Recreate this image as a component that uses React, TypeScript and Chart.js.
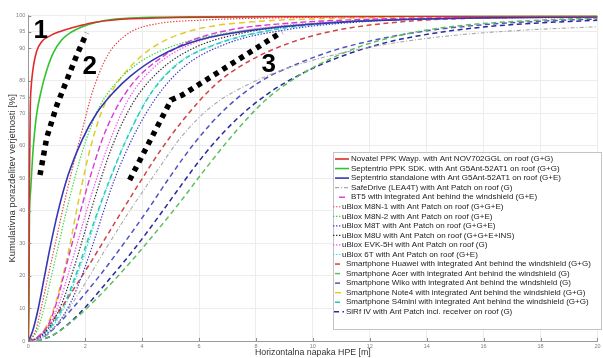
import React, { useEffect, useRef } from 'react';
import { Chart, registerables } from 'chart.js';
Chart.register(...registerables);

const xTicks = [0, 2, 4, 6, 8, 10, 12, 14, 16, 18, 20];
const yTicks = [0, 10, 20, 30, 40, 50, 60, 70, 75, 80, 90, 95, 100];

const seriesLabels = [
  'Novatel PPK Wayp. with Ant NOV702GGL on roof (G+G)',
  'Septentrio PPK SDK. with Ant G5Ant-52AT1 on roof (G+G)',
  'Septentrio standalone with Ant G5Ant-52AT1 on roof (G+E)',
  'SafeDrive (LEA4T) with Ant Patch on roof (G)',
  'BT5 with integrated Ant behind the windshield (G+E)',
  'uBlox M8N-1 with Ant Patch on roof (G+G+E)',
  'uBlox M8N-2 with Ant Patch on roof (G+E)',
  'uBlox M8T with Ant Patch on roof (G+G+E)',
  'uBlox M8U with Ant Patch on roof (G+G+E+INS)',
  'uBlox EVK-5H with Ant Patch on roof (G)',
  'uBlox 6T with Ant Patch on roof (G+E)',
  'Smartphone Huawei with integrated Ant behind the windshield (G+G)',
  'Smartphone Acer with integrated Ant behind the windshield (G)',
  'Smartphone Wiko with integrated Ant behind the windshield (G)',
  'Smartphone Note4 with integrated Ant behind the windshield (G+G)',
  'Smartphone S4mini with integrated Ant behind the windshield (G+G)',
  'SiRf IV with Ant Patch incl. receiver on roof (G)',
];

// [HPE m, cumulative %]
const novatelPPK = [[0,0],[0.02,20],[0.04,50],[0.07,72],[0.1,78],[0.13,81],[0.18,84.5],[0.29,89],[0.47,92],[0.76,93.8],[1.1,95.1],[1.5,96.2],[1.8,96.9],[2.3,97.9],[3,98.7],[4.5,99.3],[10,99.7],[20,100]];
const septentrioPPK = [[0,0],[0.02,10],[0.04,38],[0.08,46],[0.12,52],[0.17,59],[0.29,69.5],[0.47,77.5],[0.64,83],[0.87,88.4],[1.17,92.5],[1.52,95],[1.92,96.7],[2.4,98],[3,98.9],[4,99.4],[6,99.7],[10,99.9],[20,100]];
const septentrioStd = [[0,0],[0.15,3],[0.35,10],[0.55,19],[0.76,28.5],[1.05,40],[1.4,51],[1.9,62],[2.4,70],[3,76.5],[3.6,81.5],[4.6,87.5],[6,92.5],[8.3,96],[11,98],[14,99],[20,99.7]];
const safeDrive = [[0,0],[0.4,0.5],[1.0,5],[1.8,15],[2.7,28],[3.6,40.5],[4.5,52],[5.4,63],[6.5,72.5],[8,80],[9.5,85],[11,88.5],[13,91.8],[15,94],[17.5,95.6],[20,96.6]];
const bt5 = [[0,0],[0.3,1],[0.7,5],[1.0,12],[1.3,22],[1.6,32],[1.9,42],[2.16,50],[2.6,62],[3.0,70],[3.4,76],[3.9,81.5],[4.5,86],[5.5,91.5],[7,95.5],[9,97.6],[12,98.9],[20,99.7]];
const m8n1 = [[0,0],[0.25,3],[0.45,10],[0.7,20],[0.95,30],[1.2,40],[1.52,52],[1.9,65],[2.2,75],[2.5,82.5],[2.8,88],[3.1,91.5],[3.66,95.3],[4.5,97.5],[6,98.6],[10,99.5],[20,100]];
const m8n2 = [[0,0],[0.3,3],[0.55,10],[0.8,19.5],[1.05,29],[1.3,38.5],[1.63,50],[2,61],[2.5,72],[3.1,79.5],[3.8,85],[4.6,89],[6,93],[8.3,96.2],[11,98],[15,99.2],[20,99.7]];
const m8t = [[0,0],[0.4,1],[1,5],[1.5,12],[1.9,20.5],[2.3,30.5],[2.65,40],[3.0,49],[3.7,63],[4.55,75.5],[5.5,84.5],[7,91.5],[9,95.6],[12,98.3],[16,99.4],[20,99.7]];
const m8u = [[0,0],[0.35,1],[0.8,5],[1.2,12],[1.55,21],[1.9,31],[2.2,40],[2.5,48.5],[3.0,61],[3.7,73.5],[4.6,83],[5.8,90],[7.5,94.6],[10,97.5],[13,98.8],[20,99.6]];
const evk5h = [[0,0],[0.3,1],[0.75,5],[1.1,12],[1.4,20.5],[1.75,31],[2.05,40],[2.33,48],[2.8,60],[3.5,74],[4.4,84],[5.6,90.8],[7,94.5],[9,97],[12,98.5],[20,99.5]];
const ublox6t = [[0,0],[0.35,1],[0.9,5],[1.35,12],[1.75,21],[2.1,30],[2.45,39.5],[2.8,48],[3.4,61],[4.25,75.5],[5.2,85],[6.5,91],[8.5,95.5],[11,98],[15,99.3],[20,99.7]];
const huawei = [[0,0],[0.3,1],[0.7,4.5],[1.3,12],[2,21.5],[2.6,30],[3.14,37.8],[3.9,48.5],[4.6,58],[5.4,67.5],[6.6,79],[7.75,86],[9.15,91.5],[10.7,95.3],[13.2,98.2],[15.5,99.2],[20,99.7]];
const acer = [[0,0],[0.5,0.5],[1,2.5],[1.8,8],[3,18.5],[4.25,31],[5.36,43],[6.1,51.5],[7.2,63.5],[8.33,74],[9.5,81.5],[10.8,87.5],[12,91.5],[13.8,95.3],[15.6,97.3],[17.9,98.6],[20,99.3]];
const wiko = [[0,0],[0.4,0.5],[0.8,3],[1.5,9.5],[2.5,20],[3.4,30.5],[4.25,41],[4.9,49.5],[5.9,61.5],[7,72],[8.2,80],[9.4,85],[10.8,89.5],[12.6,93.3],[14.4,95.8],[16.1,97.3],[18,98.3],[20,99]];
const note4 = [[0,0],[0.3,1],[0.6,4],[0.9,10],[1.2,19.5],[1.45,29],[1.65,38],[1.87,47.5],[2.2,60],[2.6,71],[3.1,79],[3.66,85],[4.25,89.5],[5,93.2],[6.1,96.2],[8,98.2],[10,99],[14,99.6],[20,100]];
const s4mini = [[0,0],[0.3,1],[0.85,5],[1.3,12],[1.7,21],[2.05,30],[2.45,40],[2.9,50.5],[3.5,63],[4.3,76],[5.3,85.5],[6.6,91.2],[8.5,95.5],[11,98],[15,99.3],[20,99.7]];
const sirf = [[0,0],[0.5,0.5],[1,2.5],[1.8,8.5],[2.8,18.5],[3.7,28],[4.6,38.5],[5.3,47],[6.2,57.5],[7.3,68],[8.5,76.5],[9.8,83],[11,87.5],[12.6,91.8],[14.4,94.8],[16.1,96.6],[18,97.8],[20,98.6]];

const seriesData = [novatelPPK, septentrioPPK, septentrioStd, safeDrive, bt5, m8n1, m8n2, m8t, m8u, evk5h, ublox6t, huawei, acer, wiko, note4, s4mini, sirf];

const seriesColors = ['#e02a2a', '#2ec42e', '#3636b4', '#a8a8a8', '#d838d8', '#e04848', '#3ad83a', '#3a3ad0', '#303030', '#f050f0', '#3ad8d8', '#d04444', '#5cc05c', '#5252c4', '#e0cc22', '#22c8b0', '#2a2a9c'];
const DOT = [1.4, 1.6];
const DASH = [5, 3.5];
const seriesDash = [[], [], [], [4, 2, 1, 2], [6, 3], DOT, DOT, DOT, DOT, DOT, DOT, DASH, DASH, DASH, [6, 4], DASH, DASH];
const seriesWidths = [1.6, 1.6, 1.6, 1.1, 1.4, 1.2, 1.2, 1.2, 1.2, 1.2, 1.2, 1.5, 1.5, 1.5, 1.5, 1.5, 1.5];

// legend sample geometry: [lineStart, lineEnd, textX]
const legendSamples = [
  [335, 349, 351], [335, 349, 351], [335, 349, 351], [335, 348, 351], [339, 345, 351],
  [333, 341, 342], [333, 341, 342], [333, 341, 342], [333, 341, 342], [333, 341, 342], [333, 341, 342],
  [335, 341, 346], [335, 341, 346], [335, 341, 346], [335, 341, 346], [335, 341, 346], [334, 344, 346],
];

// overlay annotations (in data coordinates)
const annotationPaths = [
  [[0.41, 51], [0.65, 62.6], [1.0, 72.4], [1.35, 80.1], [1.7, 87.8], [2.05, 94.7]],
  [[3.56, 49.5], [5.02, 74.1], [5.41, 75.6], [8.91, 95.0]],
];
const annotationLabels = [['1', 0.44, 95.4], ['2', 2.16, 84.2], ['3', 8.45, 85.0]];

const FONT = '"Liberation Sans", Arial, sans-serif';

const overlayPlugin = {
  id: 'overlay',
  afterDatasetsDraw(chart: any) {
    const { ctx, scales, chartArea } = chart;
    const xs = scales.x, ys = scales.y;
    ctx.save();
    ctx.strokeStyle = '#8a8a8a';
    ctx.lineWidth = 1;
    ctx.beginPath();
    xTicks.forEach((t) => {
      const px = Math.round(xs.getPixelForValue(t)) + 0.5;
      ctx.moveTo(px, chartArea.bottom);
      ctx.lineTo(px, chartArea.bottom - 3);
    });
    yTicks.forEach((t) => {
      const py = Math.round(ys.getPixelForValue(t)) + 0.5;
      ctx.moveTo(chartArea.left, py);
      ctx.lineTo(chartArea.left + 3, py);
    });
    ctx.stroke();
    ctx.strokeStyle = '#000';
    ctx.lineWidth = 5.5;
    ctx.lineCap = 'butt';
    ctx.setLineDash([5, 5]);
    annotationPaths.forEach((path) => {
      ctx.beginPath();
      path.forEach(([vx, vy], i) => {
        const px = xs.getPixelForValue(vx), py = ys.getPixelForValue(vy);
        if (i === 0) ctx.moveTo(px, py); else ctx.lineTo(px, py);
      });
      ctx.stroke();
    });
    ctx.setLineDash([]);
    ctx.fillStyle = '#000';
    ctx.font = 'bold 26px ' + FONT;
    ctx.textAlign = 'center';
    ctx.textBaseline = 'middle';
    annotationLabels.forEach(([t, vx, vy]) => {
      ctx.fillText(t as string, xs.getPixelForValue(vx as number), ys.getPixelForValue(vy as number));
    });
    ctx.restore();
  },
  afterDraw(chart: any) {
    const { ctx } = chart;
    ctx.save();
    const bx = 333, by = 152, bw = 268, bh = 177;
    ctx.fillStyle = '#fff';
    ctx.fillRect(bx, by, bw, bh);
    ctx.strokeStyle = '#c4c4c4';
    ctx.lineWidth = 1;
    ctx.strokeRect(bx + 0.5, by + 0.5, bw, bh);
    ctx.font = '8px ' + FONT;
    ctx.textBaseline = 'middle';
    ctx.textAlign = 'left';
    chart.data.datasets.forEach((ds: any, i: number) => {
      const y = 159 + i * 9.55;
      const s = legendSamples[i];
      ctx.strokeStyle = ds.borderColor;
      ctx.lineWidth = ds.borderWidth;
      ctx.setLineDash(ds.borderDash || []);
      ctx.beginPath();
      ctx.moveTo(s[0], y);
      ctx.lineTo(s[1], y);
      ctx.stroke();
      ctx.setLineDash([]);
      ctx.fillStyle = '#222';
      ctx.fillText(ds.label, s[2], y);
    });
    ctx.restore();
  },
};

export default function App() {
  const canvasRef = useRef<HTMLCanvasElement | null>(null);
  useEffect(() => {
    const canvas = canvasRef.current;
    if (!canvas) return;
    const chart = new Chart(canvas, {
      type: 'line',
      data: {
        datasets: seriesData.map((d, i) => ({
          label: seriesLabels[i],
          data: d.map(([x, y]) => ({ x, y })),
          borderColor: seriesColors[i],
          backgroundColor: seriesColors[i],
          borderWidth: seriesWidths[i],
          borderDash: seriesDash[i],
          pointRadius: 0,
          fill: false,
          cubicInterpolationMode: 'monotone',
        })),
      },
      options: {
        animation: false,
        responsive: false,
        maintainAspectRatio: false,
        layout: { padding: { top: 15.7, right: 3, left: 0, bottom: 0 } },
        plugins: { legend: { display: false }, tooltip: { enabled: false } },
        scales: {
          x: {
            type: 'linear',
            min: 0,
            max: 20,
            afterBuildTicks: (scale: any) => { scale.ticks = xTicks.map((v) => ({ value: v })); },
            afterFit: (scale: any) => { scale.height = 17; },
            grid: { color: '#ececec', drawTicks: false },
            border: { color: '#9a9a9a' },
            ticks: { font: { size: 5.5, family: FONT }, color: '#808080', padding: 2.5, maxRotation: 0, autoSkip: false },
            title: { display: true, text: 'Horizontalna napaka HPE [m]', color: '#333', font: { size: 8.8, family: FONT }, padding: { top: 0, bottom: 0 } },
          },
          y: {
            type: 'linear',
            min: 0,
            max: 100,
            afterBuildTicks: (scale: any) => { scale.ticks = yTicks.map((v) => ({ value: v })); },
            afterFit: (scale: any) => { scale.width = 28.3; },
            grid: { color: '#ececec', drawTicks: false },
            border: { color: '#9a9a9a' },
            ticks: { font: { size: 5.5, family: FONT }, color: '#808080', padding: 3, autoSkip: false },
            title: { display: true, text: 'Kumulativna porazdelitev verjetnosti [%]', color: '#333', font: { size: 9.5, family: FONT }, padding: { top: 6.3, bottom: 0 } },
          },
        },
      },
      plugins: [overlayPlugin],
    } as any);
    return () => chart.destroy();
  }, []);
  return (
    <div style={{ position: 'absolute', left: 0, top: 0, width: 603, height: 358, background: '#fff' }}>
      <canvas ref={canvasRef} width={603} height={358} style={{ display: 'block' }} />
    </div>
  );
}
